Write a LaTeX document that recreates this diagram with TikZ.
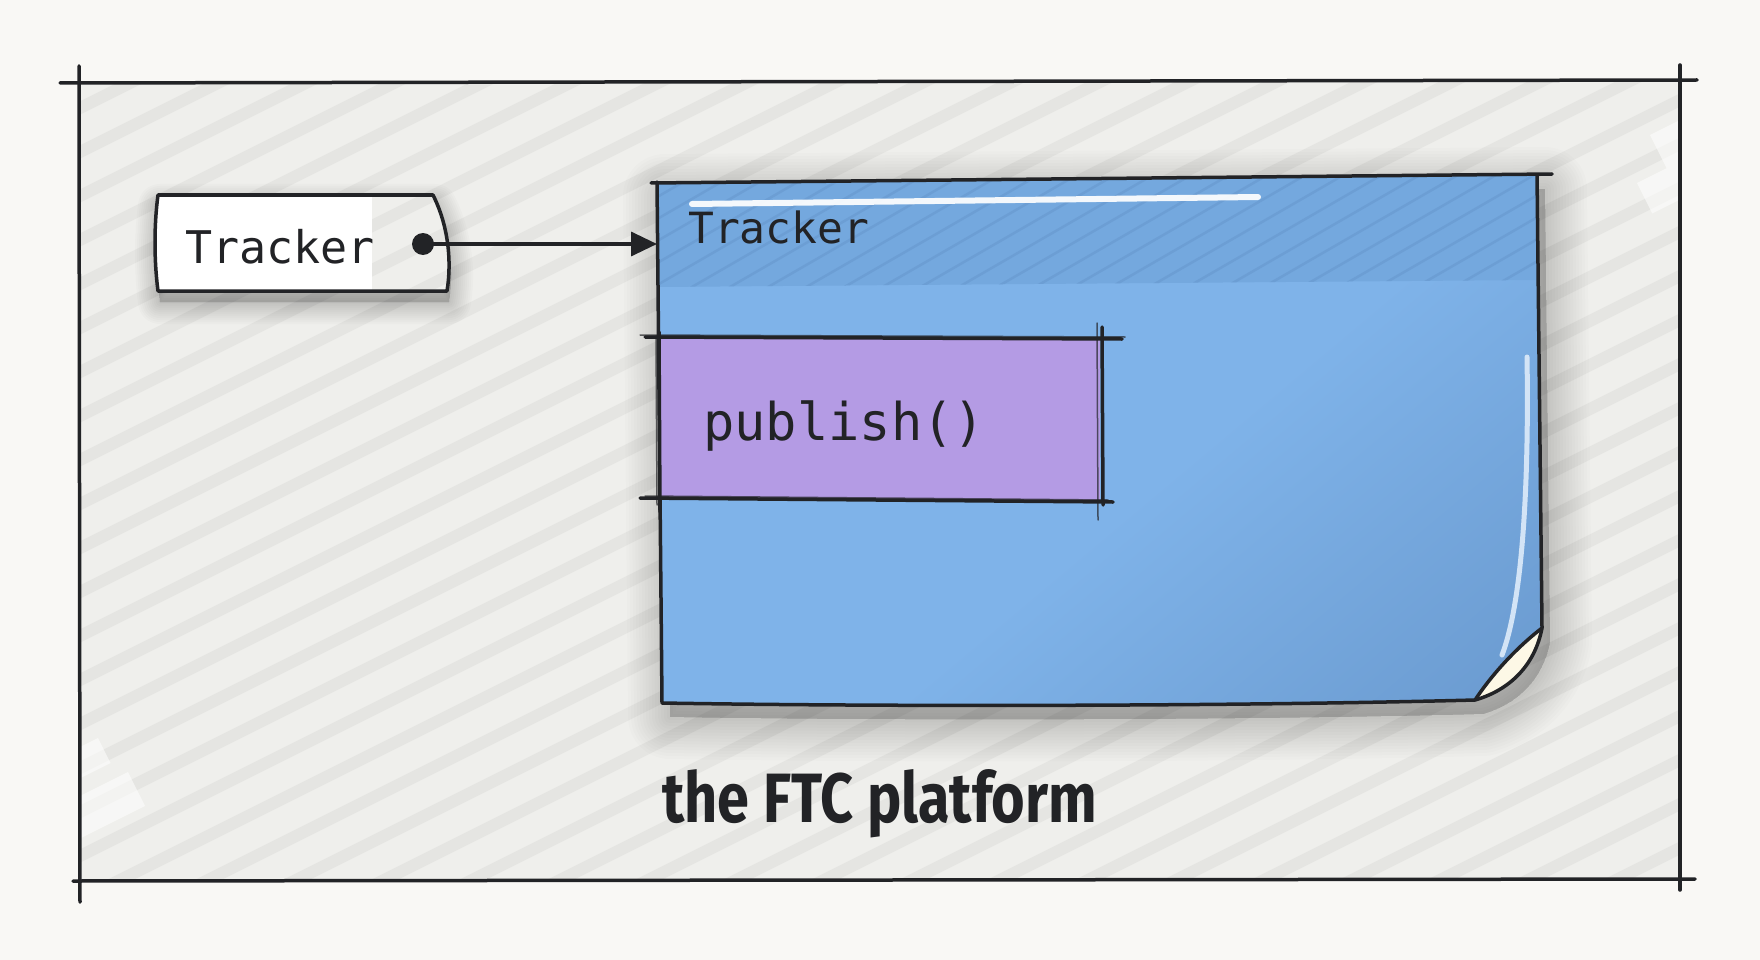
\documentclass[tikz,border=0pt]{standalone}
\usepackage{fontspec}
\newfontfamily\monof{DejaVu Sans Mono}
\newfontfamily\handf{Fira Sans}
\usetikzlibrary{arrows.meta}
\definecolor{pagebg}{HTML}{F9F8F5}
\definecolor{framebg}{HTML}{EFEFEC}
\definecolor{stripecol}{HTML}{E5E5E2}
\definecolor{ink}{HTML}{222326}
\definecolor{blueL}{HTML}{7FB3E9}
\definecolor{blueD}{HTML}{6594C9}
\definecolor{bandcol}{HTML}{74A8DE}
\definecolor{hatchcol}{HTML}{6A9CD2}
\definecolor{purp}{HTML}{B49BE4}
\definecolor{cream}{HTML}{FDF8E6}
\definecolor{shine}{HTML}{D3E4F6}
\pgfdeclareverticalshading{bluesh}{100bp}{color(0bp)=(blueD); color(8bp)=(blueD); color(45bp)=(blueL); color(100bp)=(blueL)}
\tikzset{
  inkline/.style={draw=ink, line width=3.5pt, line cap=round, line join=round},
  thinink/.style={draw=ink, line width=1.5pt, line cap=round, opacity=.7},
  stripe/.style={draw=stripecol, line width=12pt},
  patch/.style={fill=white, opacity=.55},
  shadowlayer/.style={fill=black, draw=black, opacity=#1, line join=round},
  monotext/.style={anchor=base west, inner sep=0pt, text=ink, font=\monof\fontsize{#1}{#1}\selectfont},
}
\def\trkpath{(158,195) -- (433,195) .. controls (448,225) and (452,260) .. (447,291) -- (158,291) .. controls (154,260) and (154,225) .. (158,195) -- cycle}
\def\clspath{(657,182) -- (1537,175) -- (1542,628) .. controls (1535,665) and (1510,690) .. (1475,700) .. controls (1250,706) and (900,707) .. (662,703) -- cycle}
\begin{document}
\begin{tikzpicture}[x=1pt,y=-1pt]
\useasboundingbox (0,0) rectangle (1760,960);
\fill[pagebg] (0,0) rectangle (1760,960);

% outer frame
\fill[framebg] (80,82) rectangle (1680,880);
\begin{scope}
  \clip (80,82) rectangle (1680,880);
  \foreach \a in {-1800,-1712,...,1800} \draw[stripe] (\a,960) -- ++(1920,-960);
  \fill[patch, rotate around={26.57:(1650,135)}] (1650,135) rectangle ++(90,37);
  \fill[patch, rotate around={26.57:(1637,183)}] (1637,183) rectangle ++(90,34);
  \fill[patch, rotate around={26.57:(98,738)}] (98,738) rectangle ++(-90,28);
  \fill[patch, rotate around={26.57:(128,772)}] (128,772) rectangle ++(-120,38);
\end{scope}
\draw[inkline] (60,83) -- (1697,80);
\draw[inkline] (79,66) -- (80,902);
\draw[inkline] (1680,65) -- (1680,890);
\draw[inkline] (73,881) -- (1695,879);

% small Tracker node
\begin{scope}[shift={(2,11)}]
  \foreach \w in {44,40,...,4} \path[shadowlayer=.014, line width=\w pt] \trkpath;
\end{scope}
\begin{scope}
  \clip (150,190) rectangle (372,300);
  \fill[white] \trkpath;
\end{scope}
\begin{scope}
  \clip (372,190) rectangle (460,300);
  \clip \trkpath;
  \fill[framebg] (372,190) rectangle (460,300);
  \foreach \a in {-1800,-1712,...,1800} \draw[stripe] (\a,960) -- ++(1920,-960);
\end{scope}
\draw[inkline] \trkpath;
\node[monotext=45pt] (trk) at (185,263) {Tracker};
\coordinate (dot) at (423,244);

% blue class box
\begin{scope}[shift={(8,14)}]
  \foreach \w in {84,78,...,6} \path[shadowlayer=.012, line width=\w pt] \clspath;
\end{scope}
\path[shading=bluesh, shading angle=40] \clspath;
\node[minimum width=885pt, minimum height=528pt, inner sep=0pt, anchor=north west] (cls) at (657,175) {};
\begin{scope}
  \clip (657,182) -- (1537,175) -- (1537,280) -- (657,287) -- cycle;
  \fill[bandcol] (650,170) rectangle (1545,290);
  \foreach \a in {0,22,...,720} \draw[hatchcol, line width=2.5pt, opacity=.8] (600,\a+120) -- ++(1000,-577);
\end{scope}
% curl
\fill[cream] (1542,628) .. controls (1535,665) and (1510,690) .. (1475,700) .. controls (1495,670) and (1520,645) .. (1542,628) -- cycle;
\draw[inkline] (1542,628) .. controls (1520,645) and (1495,670) .. (1475,700);
% outline
\draw[inkline] (657,182) -- (662,703) .. controls (900,707) and (1250,706) .. (1475,700)
  .. controls (1510,690) and (1535,665) .. (1542,628) -- (1537,175);
\draw[inkline] (651,183) -- (1552,174);
% shines
\draw[white, line width=6pt, line cap=round, opacity=.92] (692,204) -- (1258,197);
\draw[shine, line width=5pt, line cap=round] (1527,357) .. controls (1529,480) and (1523,600) .. (1502,655);
\node[monotext=43pt] (hdr) at (688,243) {Tracker};

% arrow
\draw[inkline, line cap=butt, -{Triangle[length=26pt,width=24pt]}] (dot) -- (cls.west |- dot);
\fill[ink] (dot) circle[radius=11pt];

% publish() box
\node[fill=purp, minimum width=441pt, minimum height=161pt, inner sep=0pt, anchor=north west] (pub) at (659,339) {};
\draw[inkline] (645,337) -- (1122,339);
\draw[thinink] (640,335) -- (1125,337);
\draw[inkline] (640,498) -- (1113,502);
\draw[thinink] (645,496) -- (1108,500);
\draw[inkline] (659,332) -- (660,512);
\draw[thinink] (656,336) -- (657,505);
\draw[inkline] (1102,327) -- (1103,505);
\draw[thinink] (1097,323) -- (1098,520);
\node[monotext=52pt] (pubtxt) at (703,440) {publish()};

% caption
\node[anchor=base west, inner sep=0pt, text=ink] (lbl) at (662,822) {\resizebox{435pt}{53pt}{\handf\bfseries the FTC platform}};
\end{tikzpicture}
\end{document}
